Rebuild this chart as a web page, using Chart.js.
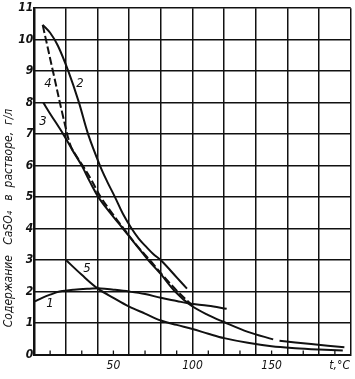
<!DOCTYPE html>
<html>
<head>
<meta charset="utf-8">
<script src="https://cdn.jsdelivr.net/npm/chart.js@4/dist/chart.umd.min.js"></script>
<style>
  html, body { margin:0; padding:0; background:#fff; }
  #wrap { width:355px; height:379px; position:relative; }
</style>
</head>
<body>
<div id="wrap"><canvas id="c" width="355" height="379"></canvas></div>
<script>
// ---- data ----
const curve1X = [0.4, 5, 10, 16, 25, 35, 42, 50, 60, 70, 80, 90, 98, 110, 121.6];
const curve1Y = [1.69, 1.8, 1.9, 2.0, 2.06, 2.09, 2.1, 2.06, 2.0, 1.92, 1.8, 1.7, 1.62, 1.55, 1.45];

const curve2X = [5.3, 10, 15, 21.5, 28, 34, 41.5, 46, 51, 56, 61.5, 66, 70, 75, 80.5, 90, 96.5];
const curve2Y = [10.47, 10.22, 9.8, 9.0, 8.04, 7.0, 6.0, 5.5, 5.0, 4.47, 4.0, 3.68, 3.46, 3.2, 2.97, 2.45, 2.09];

const curve3X = [5.7, 10, 18.3, 24, 30, 35, 40.5, 48, 56, 64, 72, 80, 89, 98.4, 110, 119.5, 135, 151, 153, 155, 175, 196];
const curve3Y = [8.0, 7.65, 7.0, 6.5, 6.0, 5.5, 5.0, 4.5, 4.0, 3.5, 3.0, 2.55, 2.0, 1.58, 1.25, 1.04, 0.72, 0.48, null, 0.44, 0.33, 0.23];

const curve4X = [5.3, 12, 18, 22.6, 26, 31, 36, 42, 49, 56.5, 65, 73, 82, 91, 100];
const curve4Y = [10.47, 8.95, 7.6, 6.68, 6.35, 5.97, 5.55, 5.0, 4.5, 4.0, 3.45, 3.0, 2.47, 1.98, 1.55];

const curve5X = [20, 30, 40, 50, 60, 70, 80, 90, 100, 110, 120, 135, 150, 165, 180, 195];
const curve5Y = [3.0, 2.53, 2.1, 1.8, 1.52, 1.3, 1.08, 0.94, 0.81, 0.66, 0.52, 0.37, 0.26, 0.2, 0.16, 0.13];

const xTickValues = [0, 20, 40, 50, 60, 80, 100, 120, 140, 150, 160, 180, 193, 200];
const xTickLabels = {50: '50', 100: '100', 150: '150', 193: 't,°C'};
const xMinorTicks = [10, 30, 50, 70, 90, 110, 130, 150, 170, 190];
const curveNames = ['1', '2', '3', '4', '5'];
const yTitle = 'Содержание   CaSO₄   в  растворе,  г/л';

// ---- build ----
const pts = (xs, ys) => xs.map((v, i) => ({x: v, y: ys[i]}));
const INK = '#111';

const lineDs = (name, xs, ys, dash) => ({
  label: name,
  data: pts(xs, ys),
  borderColor: INK,
  borderWidth: 2,
  borderDash: dash || [],
  pointRadius: 0,
  fill: false,
  spanGaps: false,
  tension: 0.35
});

const annot = {
  id: 'annot',
  afterDraw(chart) {
    const {ctx, chartArea} = chart;
    const x = chart.scales.x, y = chart.scales.y;
    ctx.save();
    // inward minor ticks on the x axis
    ctx.strokeStyle = INK;
    ctx.lineWidth = 1.3;
    xMinorTicks.forEach(v => {
      const px = x.getPixelForValue(v);
      ctx.beginPath();
      ctx.moveTo(px, chartArea.bottom);
      ctx.lineTo(px, chartArea.bottom - 4);
      ctx.stroke();
    });
    // curve numbers
    const anchors = [[9.9, 1.63], [28.8, 8.6], [5.5, 7.41], [8.7, 8.61], [33.3, 2.73]];
    ctx.fillStyle = INK;
    ctx.font = 'italic 13px "Liberation Sans Narrow", "DejaVu Sans Condensed", sans-serif';
    ctx.textAlign = 'center';
    ctx.textBaseline = 'middle';
    curveNames.forEach((n, i) => {
      ctx.fillText(n, x.getPixelForValue(anchors[i][0]), y.getPixelForValue(anchors[i][1]));
    });
    // y axis title
    ctx.translate(9, 218);
    ctx.rotate(-Math.PI / 2);
    ctx.font = 'italic 12px "DejaVu Sans Condensed", "Liberation Sans Narrow", sans-serif';
    ctx.fillText(yTitle, 0, 0);
    ctx.restore();
  }
};

new Chart(document.getElementById('c'), {
  type: 'line',
  data: {
    datasets: [
      lineDs('1', curve1X, curve1Y),
      lineDs('2', curve2X, curve2Y),
      lineDs('3', curve3X, curve3Y),
      lineDs('4', curve4X, curve4Y, [8, 3]),
      lineDs('5', curve5X, curve5Y)
    ]
  },
  options: {
    responsive: false,
    animation: false,
    events: [],
    layout: { padding: { left: 0, right: 4.3, top: 6.5, bottom: 0 } },
    plugins: { legend: { display: false }, tooltip: { enabled: false } },
    scales: {
      x: {
        type: 'linear',
        min: 0, max: 200,
        afterBuildTicks: s => { s.ticks = xTickValues.map(v => ({value: v})); },
        afterFit: s => { s.height = 24.5; },
        grid: {
          color: c => (c.tick && c.tick.value % 20 === 0) ? INK : 'rgba(0,0,0,0)',
          lineWidth: 1.5,
          drawTicks: false
        },
        border: { color: INK, width: 2 },
        ticks: {
          autoSkip: false,
          maxRotation: 0,
          padding: 4,
          color: INK,
          font: { family: '"Liberation Sans Narrow", "DejaVu Sans Condensed", sans-serif', size: 12, style: 'italic' },
          callback: v => xTickLabels[v] || ''
        }
      },
      y: {
        min: 0, max: 11,
        afterFit: s => { s.width = 34.3; },
        grid: { color: INK, lineWidth: 1.5, drawTicks: false },
        border: { color: INK, width: 2 },
        ticks: {
          stepSize: 1,
          padding: 1,
          color: INK,
          font: { family: '"Liberation Sans Narrow", "DejaVu Sans Condensed", sans-serif', size: 12, style: 'italic', weight: 'bold' }
        }
      }
    }
  },
  plugins: [annot]
});
</script>
</body>
</html>
